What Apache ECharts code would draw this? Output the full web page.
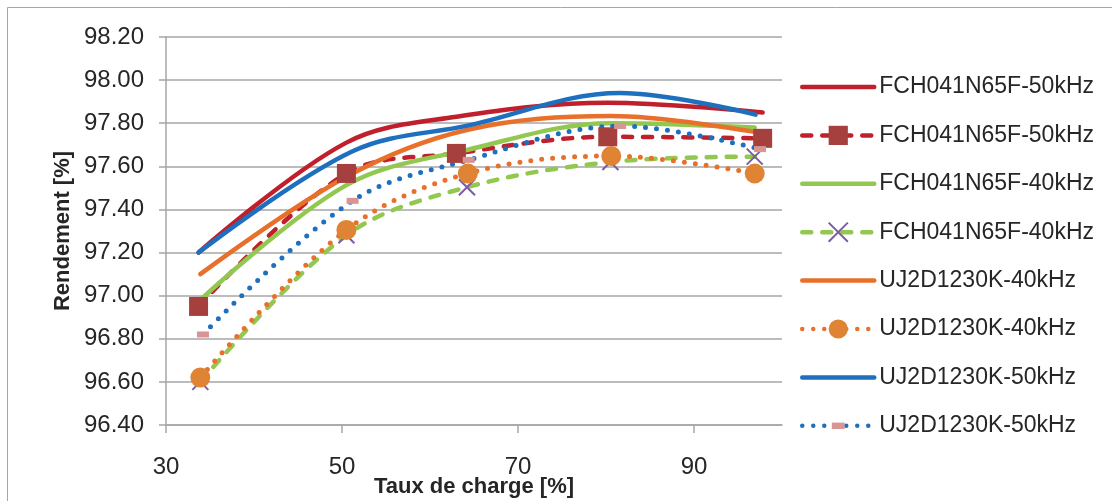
<!DOCTYPE html>
<html>
<head>
<meta charset="utf-8">
<script src="https://cdn.jsdelivr.net/npm/echarts@6/dist/echarts.min.js"></script>
<style>
html,body{margin:0;padding:0;background:#fff;}
#c{width:1112px;height:501px;}
</style>
</head>
<body>
<div id="c"></div>
<script>
// ---- data ----
var seriesNames = ['FCH041N65F-50kHz','FCH041N65F-50kHz','FCH041N65F-40kHz','FCH041N65F-40kHz','UJ2D1230K-40kHz','UJ2D1230K-40kHz','UJ2D1230K-50kHz','UJ2D1230K-50kHz'];
var xTicks = [30, 50, 70, 90];

var fch50SolidX = [33.7, 50.5, 63.0, 80.2, 97.8];
var fch50SolidY = [97.20, 97.71, 97.83, 97.895, 97.85];
var fch50MeasX  = [33.7, 50.5, 63.0, 80.2, 97.8];
var fch50MeasY  = [96.95, 97.567, 97.66, 97.737, 97.73];

var fch40SolidX = [33.9, 50.5, 64.2, 80.5, 96.9];
var fch40SolidY = [96.98, 97.513, 97.676, 97.80, 97.78];
var fch40MeasX  = [33.9, 50.5, 64.2, 80.5, 96.9];
var fch40MeasY  = [96.60, 97.28, 97.503, 97.62, 97.645];

var uj40SolidX = [33.9, 50.5, 64.3, 80.6, 96.9];
var uj40SolidY = [97.10, 97.552, 97.77, 97.833, 97.76];
var uj40MeasX  = [33.9, 50.5, 64.3, 80.6, 96.9];
var uj40MeasY  = [96.62, 97.305, 97.567, 97.648, 97.567];

var uj50SolidX = [33.7, 51.2, 64.4, 81.6, 97.0];
var uj50SolidY = [97.20, 97.67, 97.79, 97.94, 97.84];
var uj50MeasX  = [34.2, 51.2, 64.4, 81.6, 97.5];
var uj50MeasY  = [96.82, 97.44, 97.63, 97.787, 97.68];

function pairs(xs, ys){ return xs.map(function(x,i){ return [x, ys[i]]; }); }

// legend needs unique keys; duplicate labels get an invisible trailing space
var keys = seriesNames.map(function(n, i){ return i % 2 === 1 ? n + ' ' : n; });

var FONT = 'Liberation Sans';
var RED = '#C0202B', SQ = '#A5403F', GREEN = '#92C850', PURPLE = '#7D5BA6',
    ORANGE = '#E8702A', CIRC = '#DE8434', BLUE = '#1F6FBF', PINK = '#D89594';

var X_PATH = 'path://M0,0L20,20M20,0L0,20';
var DASH_PATH = 'path://M3,6H15V12H3Z M0,0 M18,18';
var SMOOTH = 0.35;

function solid(i, data, color){
  return {name:keys[i], type:'line', data:data, smooth:SMOOTH, symbol:'none', showSymbol:false,
    lineStyle:{color:color, width:4.5, cap:'round'}, itemStyle:{color:color}};
}

var legendData = keys.map(function(k, i){
  var item = {name:k};
  if (i % 2 === 0) item.itemStyle = {color:'rgba(0,0,0,0)', borderColor:'rgba(0,0,0,0)', borderWidth:0, opacity:0};
  return item;
});

var option = {
  animation:false,
  backgroundColor:'#fff',
  textStyle:{fontFamily:FONT},
  graphic:[{type:'rect', shape:{x:7.5,y:7.5,width:1200,height:600}, style:{fill:'none', stroke:'#A6A6A6', lineWidth:1}, silent:true}],
  grid:{left:166, right:330, top:37, bottom:76, containLabel:false, outerBoundsMode:'none'},
  legend:{
    orient:'vertical', left:800, top:75, padding:0,
    itemWidth:72, itemHeight:24, itemGap:24.4,
    lineStyle:{width:4.5, cap:'round'},
    textStyle:{fontFamily:FONT, fontSize:23, color:'#262626', lineHeight:24},
    data:legendData
  },
  xAxis:{
    type:'value', min:30, max:100, interval:20,
    name:'Taux de charge [%]', nameLocation:'middle', nameGap:51, nameMoveOverlap:false,
    nameTextStyle:{fontFamily:FONT, fontSize:22, fontWeight:'bold', color:'#262626'},
    axisLine:{lineStyle:{color:'#A6A6A6', width:1.5}},
    axisTick:{show:true, length:8, lineStyle:{color:'#A6A6A6', width:1.5}, customValues:xTicks},
    axisLabel:{fontFamily:FONT, fontSize:24, color:'#262626', margin:30, customValues:xTicks},
    splitLine:{show:false}
  },
  yAxis:{
    type:'value', min:96.4, max:98.2, interval:0.2,
    name:'Rendement [%]', nameLocation:'middle', nameGap:92, nameMoveOverlap:false,
    nameTextStyle:{fontFamily:FONT, fontSize:22, fontWeight:'bold', color:'#262626'},
    axisLine:{show:true, lineStyle:{color:'#A6A6A6', width:1.5}},
    axisTick:{show:true, length:7, lineStyle:{color:'#A6A6A6', width:1.5}},
    axisLabel:{fontFamily:FONT, fontSize:24, color:'#262626', margin:22,
      formatter:function(v){ return v.toFixed(2); }},
    splitLine:{lineStyle:{color:'#A6A6A6', width:1.5}}
  },
  series:[
    solid(0, pairs(fch50SolidX, fch50SolidY), RED),
    {name:keys[1], type:'line', data:pairs(fch50MeasX, fch50MeasY), smooth:SMOOTH,
      symbol:'rect', symbolSize:19,
      lineStyle:{color:RED, width:4.5, type:[9,11], cap:'round'},
      itemStyle:{color:SQ}},
    solid(2, pairs(fch40SolidX, fch40SolidY), GREEN),
    {name:keys[3], type:'line', data:pairs(fch40MeasX, fch40MeasY), smooth:SMOOTH,
      symbol:X_PATH, symbolSize:16,
      lineStyle:{color:GREEN, width:4.5, type:[9,11], cap:'round'},
      itemStyle:{color:'rgba(0,0,0,0)', borderColor:PURPLE, borderWidth:2}},
    solid(4, pairs(uj40SolidX, uj40SolidY), ORANGE),
    {name:keys[5], type:'line', data:pairs(uj40MeasX, uj40MeasY), smooth:SMOOTH,
      symbol:'circle', symbolSize:20,
      lineStyle:{color:ORANGE, width:5, type:[0,11], cap:'round'},
      itemStyle:{color:CIRC}},
    solid(6, pairs(uj50SolidX, uj50SolidY), BLUE),
    {name:keys[7], type:'line', data:pairs(uj50MeasX, uj50MeasY), smooth:SMOOTH,
      symbol:DASH_PATH, symbolSize:18,
      lineStyle:{color:BLUE, width:5, type:[0,11], cap:'round'},
      itemStyle:{color:PINK}}
  ]
};

var chart = echarts.init(document.getElementById('c'), null, {renderer:'canvas'});
chart.setOption(option);
</script>
</body>
</html>
